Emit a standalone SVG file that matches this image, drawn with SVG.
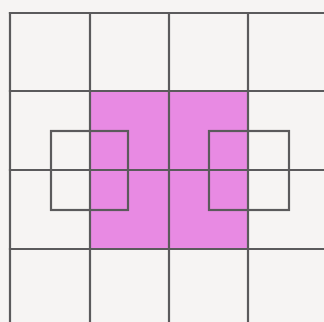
<svg xmlns="http://www.w3.org/2000/svg" width="324" height="322" viewBox="0 0 324 322">
  <style>
    .ln { stroke: #5b5a5c; stroke-width: 2.2; fill: none; stroke-linecap: square; }
  </style>
  <rect x="0" y="0" width="324" height="322" fill="#f6f4f3"/>
  <rect id="magenta" x="90" y="91" width="158" height="158" fill="#e88ae3"/>
  <g id="grid" class="ln">
    <line x1="10" y1="13" x2="324" y2="13"/>
    <line x1="10" y1="91" x2="324" y2="91"/>
    <line x1="10" y1="170" x2="324" y2="170"/>
    <line x1="10" y1="249" x2="324" y2="249"/>
    <line x1="10" y1="13" x2="10" y2="322"/>
    <line x1="90" y1="13" x2="90" y2="322"/>
    <line x1="169" y1="13" x2="169" y2="322"/>
    <line x1="248" y1="13" x2="248" y2="322"/>
  </g>
  <g id="small-left"><rect class="ln" x="51" y="131" width="77" height="79"/></g>
  <g id="small-right"><rect class="ln" x="209" y="131" width="80" height="79"/></g>
</svg>
